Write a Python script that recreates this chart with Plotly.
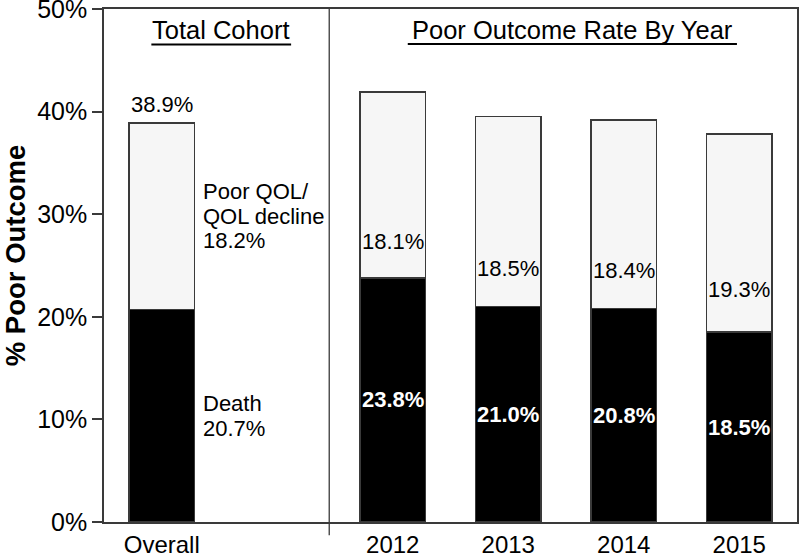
import plotly.graph_objects as go

categories = ["Overall", "2012", "2013", "2014", "2015"]
x_pos = [0, 2, 3, 4, 5]
death = [20.7, 23.8, 21.0, 20.8, 18.5]
poor_qol = [18.2, 18.1, 18.5, 18.4, 19.3]
total = [38.9, 41.9, 39.5, 39.2, 37.8]
y_ticks = [0, 10, 20, 30, 40, 50]
y_ticklabels = ["0%", "10%", "20%", "30%", "40%", "50%"]

FONT = "Liberation Sans, Arial, sans-serif"
BW = 0.57
EDGE = "#3a3a3a"
LBL = 22

fig = go.Figure()
fig.add_trace(go.Bar(x=x_pos, y=death, width=BW, marker=dict(color="black", line=dict(color=EDGE, width=1.5)),
                     hoverinfo="skip"))
fig.add_trace(go.Bar(x=x_pos, y=poor_qol, width=BW, marker=dict(color="#f6f6f6", line=dict(color=EDGE, width=1.5)),
                     hoverinfo="skip"))


def txt(x, y, s, **kw):
    d = dict(x=x, y=y, text=s, showarrow=False, font=dict(size=LBL, color="black", family=FONT))
    d.update(kw)
    return d


ann = []
# Overall bar labels
ann.append(txt(x_pos[0], total[0], f"{total[0]:.1f}%", yanchor="bottom", yshift=4))
qol_lines = ["Poor QOL/", "QOL decline", f"{poor_qol[0]:.1f}%"]
for i, s in enumerate(qol_lines):
    ann.append(txt(x_pos[0] + BW / 2, death[0] + poor_qol[0] / 2, s, xanchor="left", xshift=6,
                   yshift=24.5 * (1 - i)))
death_lines = ["Death", f"{death[0]:.1f}%"]
for i, s in enumerate(death_lines):
    ann.append(txt(x_pos[0] + BW / 2, death[0] / 2, s, xanchor="left", xshift=6,
                   yshift=12.25 - 24.5 * i))
# Year bar labels
for xi, d, p in zip(x_pos[1:], death[1:], poor_qol[1:]):
    ann.append(txt(xi, d + p / 2 - 5.5, f"{p:.1f}%"))
    ann.append(txt(xi, d / 2, f"<b>{d:.1f}%</b>", font=dict(size=LBL, color="white", family=FONT)))
# headers
ann.append(txt(0.51, 47.95, "Total Cohort", font=dict(size=25.5, color="black", family=FONT)))
ann.append(txt(3.56, 47.95, "Poor Outcome Rate By Year", font=dict(size=25.5, color="black", family=FONT)))
# y-axis title
ann.append(dict(xref="paper", yref="paper", x=0, y=0.52, xshift=-89, xanchor="center", yanchor="middle",
                text="<b>% Poor Outcome</b>", textangle=-90, showarrow=False,
                font=dict(size=27.5, color="black", family=FONT)))

shapes = [
    dict(type="line", xref="x", yref="paper", x0=1.45, x1=1.45, y0=-0.026, y1=1, line=dict(color=EDGE, width=1.3)),
    dict(type="line", xref="x", yref="y", x0=-0.09, x1=1.12, y0=46.55, y1=46.55, line=dict(color="black", width=2)),
    dict(type="line", xref="x", yref="y", x0=2.13, x1=4.98, y0=46.6, y1=46.6, line=dict(color="black", width=2)),
]

fig.update_layout(
    barmode="stack", width=800, height=557, showlegend=False,
    plot_bgcolor="white", paper_bgcolor="white",
    margin=dict(l=104, r=3, t=9, b=35),
    annotations=ann, shapes=shapes,
    font=dict(family=FONT, color="black"),
    xaxis=dict(range=[-0.5, 5.5], tickvals=x_pos, ticktext=categories, showline=True, mirror=True,
               linecolor=EDGE, linewidth=1.5, ticks="", showgrid=False, zeroline=False, automargin=False,
               ticklabeloverflow="allow", tickfont=dict(size=24, family=FONT, color="black")),
    yaxis=dict(range=[0, 50], tickvals=y_ticks, ticktext=y_ticklabels, showline=True, mirror=True,
               linecolor=EDGE, linewidth=1.5, ticks="outside", ticklen=10, tickcolor=EDGE, tickwidth=1.5,
               showgrid=False, zeroline=False, automargin=False, ticklabeloverflow="allow",
               tickfont=dict(size=25, family=FONT, color="black")),
)

fig.write_html("out.html", config={"displayModeBar": False},
               post_script="document.body.style.margin='0px';document.body.style.overflow='hidden';")
